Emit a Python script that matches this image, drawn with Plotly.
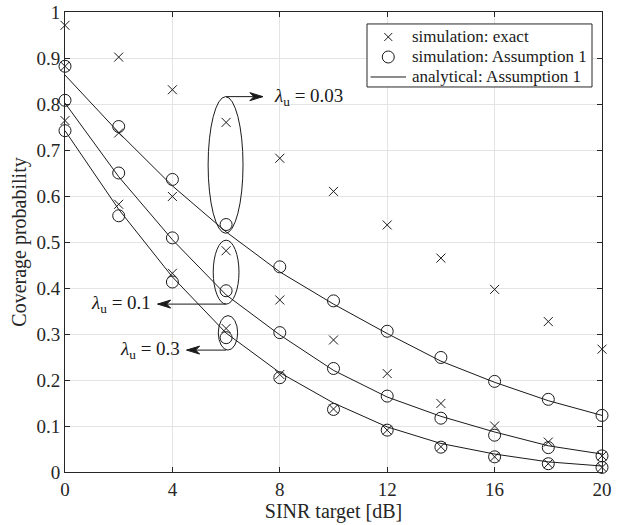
import plotly.graph_objects as go

# ---------------- data ----------------
sinr_db = [0, 2, 4, 6, 8, 10, 12, 14, 16, 18, 20]
lambda_labels = ["0.03", "0.1", "0.3"]

exact_003 = [0.971, 0.902, 0.831, 0.760, 0.682, 0.610, 0.537, 0.465, 0.397, 0.327, 0.267]
exact_01 = [0.882, 0.737, 0.599, 0.481, 0.374, 0.287, 0.214, 0.149, 0.100, 0.065, 0.035]
exact_03 = [0.764, 0.582, 0.432, 0.312, 0.212, 0.137, 0.091, 0.055, 0.033, 0.018, 0.010]

sim_a1_003 = [0.882, 0.751, 0.636, 0.538, 0.446, 0.372, 0.306, 0.249, 0.197, 0.158, 0.123]
sim_a1_01 = [0.808, 0.650, 0.509, 0.394, 0.303, 0.225, 0.165, 0.117, 0.080, 0.053, 0.035]
sim_a1_03 = [0.742, 0.557, 0.413, 0.292, 0.205, 0.136, 0.091, 0.054, 0.033, 0.018, 0.010]

ana_a1_003 = [0.863, 0.738, 0.622, 0.522, 0.435, 0.365, 0.301, 0.241, 0.195, 0.155, 0.123]
ana_a1_01 = [0.802, 0.642, 0.505, 0.385, 0.298, 0.221, 0.163, 0.121, 0.087, 0.057, 0.039]
ana_a1_03 = [0.742, 0.571, 0.424, 0.302, 0.216, 0.150, 0.098, 0.062, 0.039, 0.022, 0.013]

x_ticks = [0, 4, 8, 12, 16, 20]
y_ticks = [0, 0.1, 0.2, 0.3, 0.4, 0.5, 0.6, 0.7, 0.8, 0.9, 1]
y_tick_text = ["0", "0.1", "0.2", "0.3", "0.4", "0.5", "0.6", "0.7", "0.8", "0.9", "1"]

legend_names = ["simulation: exact", "simulation: Assumption 1", "analytical: Assumption 1"]

# ---------------- figure ----------------
FONT = "Liberation Serif"
INK = "#1a1a1a"
AX = "#262626"

fig = go.Figure()

for i, ys in enumerate([ana_a1_003, ana_a1_01, ana_a1_03]):
    fig.add_trace(go.Scatter(
        x=sinr_db, y=ys, mode="lines",
        line=dict(color=INK, width=1),
        name=legend_names[2], showlegend=False,
        cliponaxis=False, hoverinfo="skip"))

for i, ys in enumerate([sim_a1_003, sim_a1_01, sim_a1_03]):
    fig.add_trace(go.Scatter(
        x=sinr_db, y=ys, mode="markers",
        marker=dict(symbol="circle-open", size=12, color=INK, line=dict(width=1, color=INK)),
        name=legend_names[1], showlegend=False,
        cliponaxis=False, hoverinfo="skip"))

for i, ys in enumerate([exact_003, exact_01, exact_03]):
    fig.add_trace(go.Scatter(
        x=sinr_db, y=ys, mode="markers",
        marker=dict(symbol="x-thin-open", size=9, color=INK, line=dict(width=1, color=INK)),
        name=legend_names[0], showlegend=False,
        cliponaxis=False, hoverinfo="skip"))

# ellipses around the lambda groups at 6 dB
ellipses = [
    (5.33, 6.63, 0.519, 0.816),
    (5.52, 6.48, 0.365, 0.504),
    (5.71, 6.43, 0.265, 0.340),
]
for x0, x1, y0, y1 in ellipses:
    fig.add_shape(type="circle", xref="x", yref="y", x0=x0, x1=x1, y0=y0, y1=y1,
                  line=dict(color=INK, width=1))

# arrows: (tip x, y, tail x, direction)
arrows = [
    (7.37, 0.816, 6.0, 1),
    (3.45, 0.365, 6.0, -1),
    (4.53, 0.265, 6.0, -1),
]
for xt, yt, xs, d in arrows:
    fig.add_shape(type="line", xref="x", yref="y", x0=xs, x1=xt, y0=yt, y1=yt,
                  line=dict(color=INK, width=1))
    L, H, N = 13, 4, 9
    path = f"M 0,0 L {-d*L},{H} L {-d*N},0 L {-d*L},{-H} Z"
    fig.add_shape(type="path", xref="x", yref="y", xsizemode="pixel", ysizemode="pixel",
                  xanchor=xt, yanchor=yt, path=path,
                  fillcolor=INK, line=dict(color=INK, width=1))

labels = [
    (7.71, 0.816, "left", lambda_labels[0]),
    (3.28, 0.365, "right", lambda_labels[1]),
    (4.35, 0.265, "right", lambda_labels[2]),
]
for xl, yl, anchor, lab in labels:
    fig.add_annotation(x=xl, y=yl, xref="x", yref="y", xanchor=anchor, yanchor="middle",
                       text="<i>λ</i><sub>u</sub> = " + lab, showarrow=False,
                       font=dict(family=FONT, size=19, color=INK))

# ---------------- legend (drawn box) ----------------
leg_x0, leg_x1, leg_y0, leg_y1 = 0.5624, 0.9814, 0.837, 0.974
leg_rows = [0.9457, 0.9022, 0.8587]
sym_x, line_x0, line_x1, text_x = 0.602, 0.569, 0.635, 0.6425

fig.add_shape(type="rect", xref="paper", yref="paper", x0=leg_x0, x1=leg_x1, y0=leg_y0, y1=leg_y1,
              fillcolor="white", line=dict(color=AX, width=1), layer="above")
# cross
for sgn in (1, -1):
    fig.add_shape(type="line", xref="paper", yref="paper", xsizemode="pixel", ysizemode="pixel",
                  xanchor=sym_x, yanchor=leg_rows[0], x0=-4, x1=4, y0=-4 * sgn, y1=4 * sgn,
                  line=dict(color=INK, width=1), layer="above")
# circle
fig.add_shape(type="circle", xref="paper", yref="paper", xsizemode="pixel", ysizemode="pixel",
              xanchor=sym_x, yanchor=leg_rows[1], x0=-6, x1=6, y0=-6, y1=6,
              line=dict(color=INK, width=1), layer="above")
# line
fig.add_shape(type="line", xref="paper", yref="paper", x0=line_x0, x1=line_x1,
              y0=leg_rows[2], y1=leg_rows[2], line=dict(color=INK, width=1), layer="above")
for name, ry in zip(legend_names, leg_rows):
    fig.add_annotation(x=text_x, y=ry, xref="paper", yref="paper", xanchor="left", yanchor="middle",
                       text=name, showarrow=False, font=dict(family=FONT, size=17, color=INK))

axis_common = dict(
    showline=True, linecolor=AX, linewidth=1, mirror="ticks",
    ticks="inside", ticklen=5, tickwidth=1, tickcolor=AX,
    showgrid=True, gridcolor="#e4e4e4", gridwidth=1, zeroline=False,
    tickfont=dict(family=FONT, size=19, color=AX), automargin=False,
)

fig.update_xaxes(range=[0, 20], tickvals=x_ticks, ticktext=[str(v) for v in x_ticks],
                 title=dict(text="SINR target [dB]", font=dict(family=FONT, size=20, color=AX), standoff=4),
                 **axis_common)
fig.update_yaxes(range=[0, 1], tickvals=y_ticks, ticktext=y_tick_text,
                 title=dict(text="Coverage probability", font=dict(family=FONT, size=20, color=AX), standoff=4),
                 **axis_common)

fig.update_layout(
    width=619, height=525,
    margin=dict(l=65, r=17, t=12, b=53),
    plot_bgcolor="white", paper_bgcolor="white",
    font=dict(family=FONT, color=INK),
    showlegend=False,
)

fig.write_html("out.html")
